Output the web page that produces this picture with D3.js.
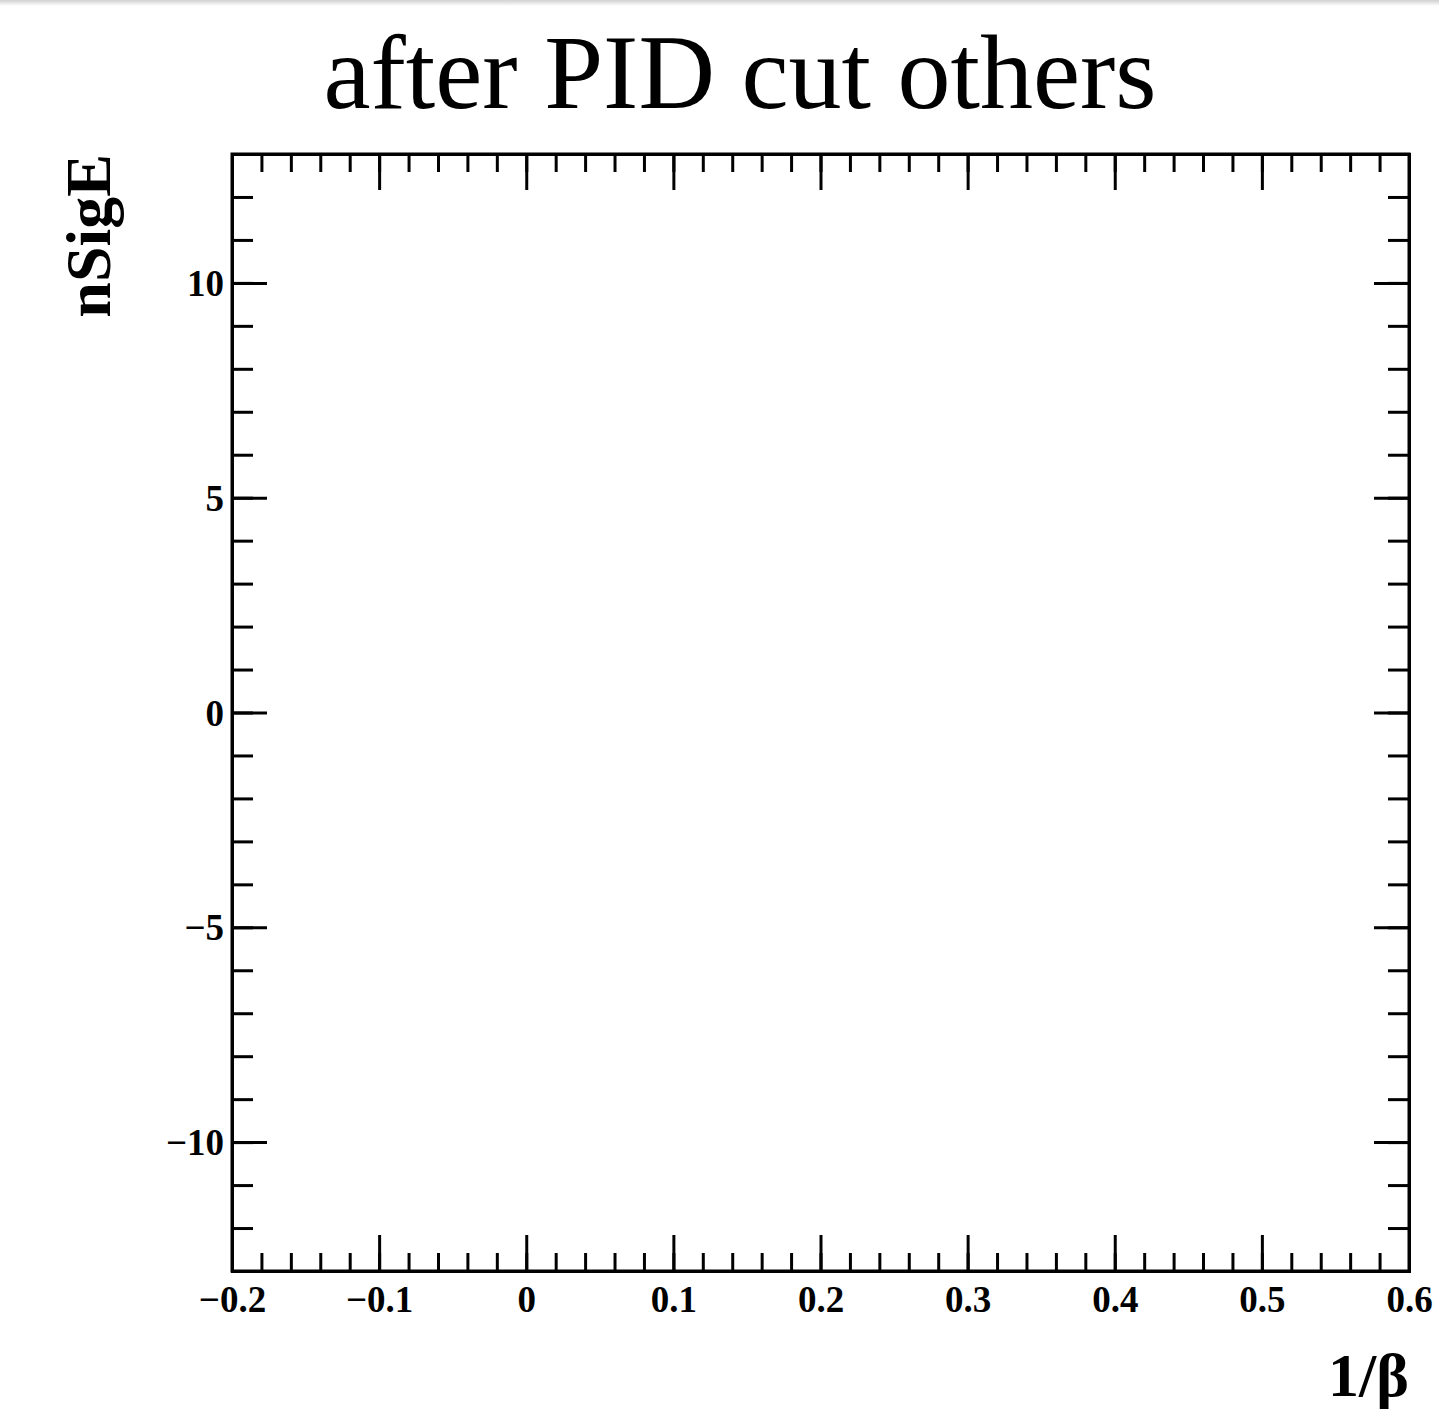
<!DOCTYPE html>
<html>
<head>
<meta charset="utf-8">
<script src="https://cdn.jsdelivr.net/npm/d3@7"></script>
<style>
  html, body { margin: 0; padding: 0; background: #fff; }
  .axis path, .axis line { stroke: #000; stroke-width: 3; }
  .axis text { font-family: 'Liberation Serif', 'Times New Roman', serif; font-weight: bold; fill: #000; }
</style>
</head>
<body>
<div class="viz"></div>
<script>
// axis ranges and tick values
const xDomain = [-0.2, 0.6];
const yDomain = [-13, 13];
const xMajor = [-0.2, -0.1, 0, 0.1, 0.2, 0.3, 0.4, 0.5, 0.6];
const xMinor = d3.range(-20, 61, 2).map(d => d / 100);
const yMajor = [-10, -5, 0, 5, 10];
const yMinor = d3.range(-13, 14, 1);
const title = 'after PID cut others';
const xTitle = '1/β';
const yTitle = 'nSigE';

const W = 1439;
const H = 1412;
const margin = { top: 154, right: 30, bottom: 141, left: 232 };
const width = W - margin.left - margin.right;
const height = H - margin.top - margin.bottom;

const svg = d3.select('.viz')
  .append('svg')
  .attr('width', W)
  .attr('height', H);

// light grey strip at the very top (window edge in the original screenshot)
const grad = svg.append('defs').append('linearGradient')
  .attr('id', 'topfade').attr('x1', 0).attr('x2', 0).attr('y1', 0).attr('y2', 1);
grad.append('stop').attr('offset', 0).attr('stop-color', '#d0d0d0');
grad.append('stop').attr('offset', 1).attr('stop-color', '#ffffff');
svg.append('rect').attr('x', 0).attr('y', 0).attr('width', W).attr('height', 6)
  .attr('fill', 'url(#topfade)');

const g = svg.append('g')
  .attr('transform', `translate(${margin.left} ${margin.top})`);

const x = d3.scaleLinear().domain(xDomain).range([0, width]);
const y = d3.scaleLinear().domain(yDomain).range([height, 0]);

const fmt = d => (d < 0 ? '\u2212' : '') + Math.abs(d);

// minor ticks, all four sides, pointing into the frame
g.append('g').attr('class', 'axis').attr('transform', `translate(0 ${height})`)
  .call(d3.axisBottom(x).tickValues(xMinor).tickSize(-18).tickFormat(''));
g.append('g').attr('class', 'axis')
  .call(d3.axisTop(x).tickValues(xMinor).tickSize(-18).tickFormat(''));
g.append('g').attr('class', 'axis')
  .call(d3.axisLeft(y).tickValues(yMinor).tickSize(-21).tickFormat(''));
g.append('g').attr('class', 'axis').attr('transform', `translate(${width} 0)`)
  .call(d3.axisRight(y).tickValues(yMinor).tickSize(-21).tickFormat(''));

// major ticks with labels
const xAxis = g.append('g').attr('class', 'axis').attr('transform', `translate(0 ${height})`)
  .call(d3.axisBottom(x).tickValues(xMajor).tickSizeInner(-36).tickSizeOuter(0).tickPadding(0).tickFormat(fmt));
xAxis.selectAll('text')
  .attr('y', 41)
  .attr('dy', 0)
  .attr('font-size', 37);

g.append('g').attr('class', 'axis')
  .call(d3.axisTop(x).tickValues(xMajor).tickSizeInner(-36).tickSizeOuter(0).tickFormat(''));

const yAxis = g.append('g').attr('class', 'axis')
  .call(d3.axisLeft(y).tickValues(yMajor).tickSizeInner(-35).tickSizeOuter(0).tickPadding(8).tickFormat(fmt));
yAxis.selectAll('text').attr('font-size', 37).attr('dy', '0.34em');

g.append('g').attr('class', 'axis').attr('transform', `translate(${width} 0)`)
  .call(d3.axisRight(y).tickValues(yMajor).tickSizeInner(-35).tickSizeOuter(0).tickFormat(''));

// frame
g.append('rect')
  .attr('x', 0).attr('y', 0)
  .attr('width', width).attr('height', height)
  .attr('fill', 'none')
  .attr('stroke', '#000')
  .attr('stroke-width', 3);

// titles
svg.append('text')
  .attr('x', 740)
  .attr('y', 108)
  .attr('text-anchor', 'middle')
  .attr('font-family', "'Liberation Serif', 'Times New Roman', serif")
  .attr('font-size', 106)
  .text(title);

svg.append('text')
  .attr('x', margin.left + width)
  .attr('y', 1396)
  .attr('text-anchor', 'end')
  .attr('font-family', "'Liberation Serif', 'Times New Roman', serif")
  .attr('font-weight', 'bold')
  .attr('font-size', 62)
  .text(xTitle);

svg.append('text')
  .attr('transform', `translate(110 ${margin.top}) rotate(-90)`)
  .attr('text-anchor', 'end')
  .attr('font-family', "'Liberation Serif', 'Times New Roman', serif")
  .attr('font-weight', 'bold')
  .attr('font-size', 64)
  .text(yTitle);
</script>
</body>
</html>
